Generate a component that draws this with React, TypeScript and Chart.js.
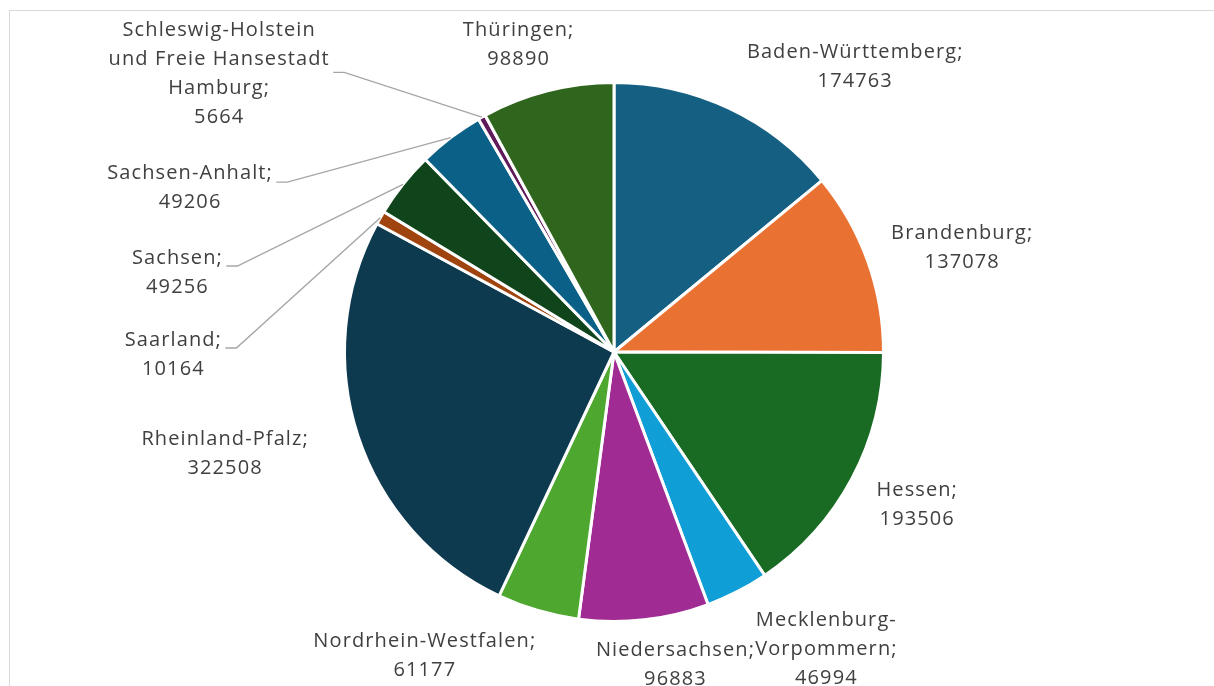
import React, { useEffect, useRef } from "react";
import { Chart, registerables } from "chart.js";

Chart.register(...registerables);

const categories: string[][] = [
  ["Baden-Württemberg;"],
  ["Brandenburg;"],
  ["Hessen;"],
  ["Mecklenburg-", "Vorpommern;"],
  ["Niedersachsen;"],
  ["Nordrhein-Westfalen;"],
  ["Rheinland-Pfalz;"],
  ["Saarland;"],
  ["Sachsen;"],
  ["Sachsen-Anhalt;"],
  ["Schleswig-Holstein", "und Freie Hansestadt", "Hamburg;"],
  ["Thüringen;"],
];

const values: number[] = [
  174763, 137078, 193506, 46994, 96883, 61177, 322508, 10164, 49256, 49206, 5664, 98890,
];

const colors: string[] = [
  "#156082", "#E97132", "#196B24", "#0F9ED5", "#A02B93", "#4EA72E",
  "#0E3A50", "#A0440F", "#10441A", "#0A6086", "#5F1A59", "#2F651C",
];

// label placement relative to pie centre, in units of radius: [dx, dy, hasLeader, leaderDy(px)]
const labelLayout: [number, number, boolean, number][] = [
  [0.893, -1.059, false, 0],
  [1.29, -0.385, false, 0],
  [1.123, 0.567, false, 0],
  [0.786, 1.104, false, 0],
  [0.226, 1.16, false, 0],
  [-0.704, 1.126, false, 0],
  [-1.445, 0.378, false, 0],
  [-1.637, 0.011, true, -7],
  [-1.622, -0.293, true, -7],
  [-1.575, -0.608, true, -6],
  [-1.467, -1.034, true, -1],
  [-0.356, -1.141, false, 0],
];

const FONT = '20px "Open Sans", "Noto Sans", sans-serif';
const LETTER = 1.1;
const LINE_H = 29;

const labelPlugin = {
  id: "excelLabels",
  afterDatasetsDraw(chart: any) {
    const ctx = chart.ctx as CanvasRenderingContext2D;
    const meta = chart.getDatasetMeta(0);
    ctx.save();
    ctx.font = FONT;
    (ctx as any).letterSpacing = LETTER + "px";
    ctx.fillStyle = "#404040";
    ctx.textAlign = "center";
    ctx.textBaseline = "middle";
    meta.data.forEach((arc: any, i: number) => {
      const { x: cx, y: cy, outerRadius: r, startAngle, endAngle } = arc.getProps(
        ["x", "y", "outerRadius", "startAngle", "endAngle"],
        true
      );
      const [dx, dy, leader, ldy] = labelLayout[i];
      const lx = cx + dx * r;
      const ly = cy + dy * r;
      const lines = [...categories[i], String(values[i])];
      const top = ly - ((lines.length - 1) * LINE_H) / 2;
      let maxW = 0;
      lines.forEach((t, k) => {
        ctx.fillText(t, lx + LETTER / 2, top + k * LINE_H);
        maxW = Math.max(maxW, ctx.measureText(t).width);
      });
      if (leader) {
        const mid = (startAngle + endAngle) / 2;
        const ex = cx + Math.cos(mid) * r;
        const ey = cy + Math.sin(mid) * r;
        const sx = lx + maxW / 2 + 4;
        const sy = ly + ldy;
        ctx.strokeStyle = "#A6A6A6";
        ctx.lineWidth = 1.4;
        ctx.beginPath();
        ctx.moveTo(sx, sy);
        ctx.lineTo(sx + 11, sy);
        ctx.lineTo(ex, ey);
        ctx.stroke();
      }
    });
    ctx.restore();
  },
};

export default function App() {
  const ref = useRef<HTMLCanvasElement | null>(null);
  useEffect(() => {
    if (!ref.current) return;
    const chart = new Chart(ref.current, {
      type: "pie",
      data: {
        labels: categories.map((c) => c.join(" ")),
        datasets: [
          {
            data: values,
            backgroundColor: colors,
            borderColor: "#FFFFFF",
            borderWidth: 3,
          },
        ],
      },
      options: {
        responsive: false,
        animation: false,
        layout: { padding: { left: 343, right: 329, top: 81, bottom: 63 } },
        plugins: {
          legend: { display: false },
          tooltip: { enabled: false },
        },
      },
      plugins: [labelPlugin],
    });
    return () => chart.destroy();
  }, []);

  return (
    <div
      style={{
        position: "fixed",
        left: 0,
        top: 0,
        width: 1214,
        height: 686,
        overflow: "hidden",
        background: "#fff",
      }}
    >
      <div
        style={{
          position: "absolute",
          left: 9,
          top: 10,
          width: 1400,
          height: 900,
          border: "1.5px solid #D9D9D9",
        }}
      />
      <canvas
        ref={ref}
        width={1214}
        height={686}
        style={{ position: "absolute", left: 0, top: 0, width: 1214, height: 686 }}
      />
    </div>
  );
}
